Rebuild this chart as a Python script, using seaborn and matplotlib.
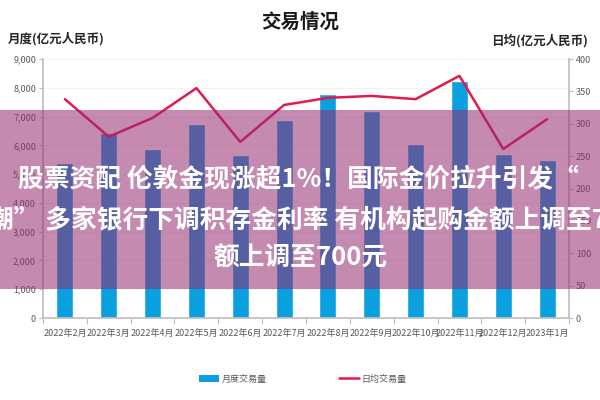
import matplotlib
matplotlib.use("Agg")
import matplotlib.pyplot as plt
from matplotlib.lines import Line2D
from matplotlib.patches import Patch, Rectangle
import numpy as np
import pandas as pd
import seaborn as sns

MONTHS = [
    "2022年2月", "2022年3月", "2022年4月", "2022年5月", "2022年6月", "2022年7月",
    "2022年8月", "2022年9月", "2022年10月", "2022年11月", "2022年12月", "2023年1月",
]
MONTHLY_VOLUME = [5380, 6420, 5870, 6740, 5660, 6880, 7780, 7190, 6040, 8230, 5690, 5490]
DAILY_VOLUME = [338, 280, 309, 355, 272, 329, 340, 343, 338, 374, 261, 307]
LEFT_TICKS = list(range(0, 9001, 1000))
RIGHT_TICKS = list(range(0, 401, 50))

TITLE = "交易情况"
LEFT_LABEL = "月度(亿元人民币)"
RIGHT_LABEL = "日均(亿元人民币)"
BAR_NAME = "月度交易量"
LINE_NAME = "日均交易量"
BANNER_LINES = [
    "股票资配 伦敦金现涨超1%！国际金价拉升引发“",
    "潮” 多家银行下调积存金利率 有机构起购金额上调至7",
    "额上调至700元",
]

BAR_COLOR = "#0aa0e0"
LINE_COLOR = "#e31b4c"
AXIS_COLOR = "#bfbfbf"
TEXT_COLOR = "#595959"

sns.set_theme(style="white")
plt.rcParams["font.family"] = ["Noto Sans CJK SC", "DejaVu Sans"]
plt.rcParams["axes.unicode_minus"] = False

df = pd.DataFrame({"月份": MONTHS, BAR_NAME: MONTHLY_VOLUME, LINE_NAME: DAILY_VOLUME})

fig = plt.figure(figsize=(6, 4), dpi=100)
ax = fig.add_axes([43 / 600, 82 / 400, 526 / 600, 259 / 400])
sns.barplot(data=df, x="月份", y=BAR_NAME, color=BAR_COLOR, width=0.39,
            saturation=1, ax=ax, zorder=2)
ax2 = ax.twinx()
sns.lineplot(x=np.arange(len(df)), y=df[LINE_NAME], color=LINE_COLOR,
             linewidth=1.8, ax=ax2)

ax.set_xlim(-0.5, len(df) - 0.5)
ax.set_ylim(0, 9000)
ax2.set_ylim(0, 400)
ax.set_yticks(LEFT_TICKS)
ax.set_yticklabels([f"{v:,}" for v in LEFT_TICKS])
ax2.set_yticks(RIGHT_TICKS)
ax.set_xticks(range(len(df)))
ax.set_xticklabels(MONTHS)
ax.set_xticks(np.arange(-0.5, len(df), 1), minor=True)
ax.set_xlabel("")
ax.set_ylabel("")
ax2.set_ylabel("")

ax.set_axisbelow(True)
ax.yaxis.grid(True, color="#f2f2f2", linewidth=0.8)

for name, spine in ax.spines.items():
    spine.set_visible(name in ("left", "bottom"))
    spine.set_color(AXIS_COLOR)
for name, spine in ax2.spines.items():
    spine.set_visible(name == "right")
    spine.set_color(AXIS_COLOR)

ax.tick_params(axis="y", left=True, length=3, width=0.8, color=AXIS_COLOR,
               labelsize=6.5, labelcolor=TEXT_COLOR, pad=2)
ax2.tick_params(axis="y", right=True, length=3, width=0.8, color=AXIS_COLOR,
                labelsize=6.5, labelcolor=TEXT_COLOR, pad=2)
ax.tick_params(axis="x", which="major", bottom=True, length=0,
               labelsize=6.5, labelcolor=TEXT_COLOR, pad=8)
ax.tick_params(axis="x", which="minor", bottom=True, length=4, width=0.8,
               color=AXIS_COLOR)

fig.text(0.5, 1 - 22 / 400, TITLE, ha="center", va="center",
         fontsize=14, fontweight="bold", color="#1a1a1a")
fig.text(8 / 600, 1 - 39 / 400, LEFT_LABEL, ha="left", va="center",
         fontsize=9, fontweight="bold", color="#262626")
fig.text(588 / 600, 1 - 41 / 400, RIGHT_LABEL, ha="right", va="center",
         fontsize=9, fontweight="bold", color="#262626")

handles = [
    Patch(facecolor=BAR_COLOR, edgecolor="none", label=BAR_NAME),
    Line2D([0], [0], color=LINE_COLOR, linewidth=1.8, label=LINE_NAME),
]
fig.legend(handles=handles, loc="center", bbox_to_anchor=(0.505, 1 - 379 / 400),
           ncol=2, frameon=False, fontsize=6.5, handlelength=2.2,
           handleheight=0.8, handletextpad=0.3, columnspacing=8,
           labelcolor=TEXT_COLOR)

# translucent banner laid over the chart
fig.add_artist(Rectangle((0, 1 - 289 / 400), 1, 179 / 400, transform=fig.transFigure,
                         facecolor="#962a70", alpha=0.55, edgecolor="none", zorder=10))
fig.text(18 / 600, 1 - 180 / 400, BANNER_LINES[0], ha="left", va="center",
         fontsize=18.5, fontweight="bold", color="white", zorder=11)
fig.text(-12 / 600, 1 - 221 / 400, BANNER_LINES[1], ha="left", va="center",
         fontsize=18.5, fontweight="bold", color="white", zorder=11)
fig.text(301 / 600, 1 - 258 / 400, BANNER_LINES[2], ha="center", va="center",
         fontsize=18.5, fontweight="bold", color="white", zorder=11)

fig.savefig("out.png", dpi=100)
